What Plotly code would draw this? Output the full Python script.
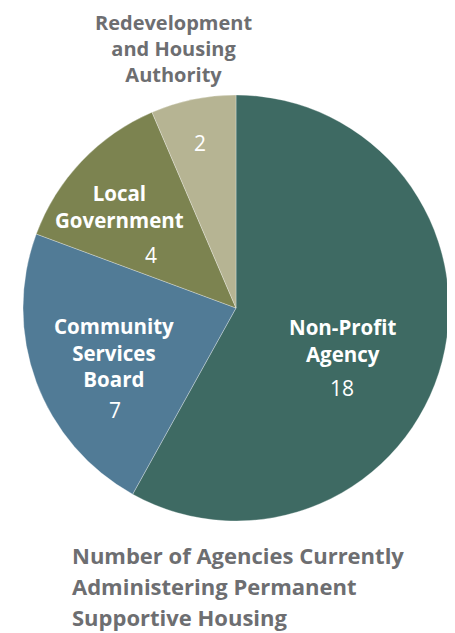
import plotly.graph_objects as go

categories = ["Non-Profit Agency", "Community Services Board", "Local Government",
              "Redevelopment and Housing Authority"]
label_lines = [["Non-Profit", "Agency"], ["Community", "Services", "Board"],
               ["Local", "Government"], ["Redevelopment", "and Housing", "Authority"]]
values = [18, 7, 4, 2]
colors = ["#3e6a63", "#517b96", "#7c8350", "#b6b493"]
title_lines = ["Number of Agencies Currently", "Administering Permanent",
               "Supportive Housing"]

W, H = 455, 633
OFF = 8  # page body margin
FONT = "Open Sans"

cx, cy, r = 236 - OFF, 308 - OFF, 213
fig = go.Figure(go.Pie(
    labels=categories, values=values, sort=False, direction="clockwise",
    rotation=0, textinfo="none", hoverinfo="label+value",
    marker=dict(colors=colors, line=dict(color="rgba(255,255,255,0.5)", width=0.6)),
    domain=dict(x=[(cx - r) / W, (cx + r) / W],
                y=[(H - cy - r) / H, (H - cy + r) / H]),
    showlegend=False,
))

def px(x, y):
    return (x - OFF) / W, 1 - (y - OFF) / H

annotations = []
# centre of each label block, and value positions (pixels)
label_pos = [(342, 340), (114, 352), (119, 206), (173, 49)]
label_sizes = [20.5, 20.5, 20.5, 20]
value_pos = [(342, 388), (115, 410), (151, 255), (200, 143)]
label_colors = ["white", "white", "white", "#6d6e71"]
for lines, v, lp, ls, vp, lc in zip(label_lines, values, label_pos, label_sizes,
                                     value_pos, label_colors):
    x, y = px(*lp)
    annotations.append(dict(text="<br>".join(lines), x=x, y=y, xref="paper", yref="paper",
                            xanchor="center", yanchor="middle", showarrow=False,
                            borderpad=0,
                            font=dict(family=FONT, size=ls, color=lc, weight="bold")))
    x, y = px(*vp)
    annotations.append(dict(text=str(v), x=x, y=y, xref="paper", yref="paper",
                            xanchor="center", yanchor="middle", showarrow=False,
                            font=dict(family=FONT, size=21, color="white")))

for i, line in enumerate(title_lines):
    x, y = px(70, 555 + 31 * i)
    annotations.append(dict(text=line, x=x, y=y, xref="paper", yref="paper",
                            xanchor="left", yanchor="middle", showarrow=False,
                            font=dict(family=FONT, size=22, color="#6d6e71", weight="bold")))

fig.update_layout(width=W, height=H, margin=dict(l=0, r=0, t=0, b=0),
                  paper_bgcolor="white", plot_bgcolor="white",
                  annotations=annotations)

fig.write_html("out.html", config={"displayModeBar": False})
